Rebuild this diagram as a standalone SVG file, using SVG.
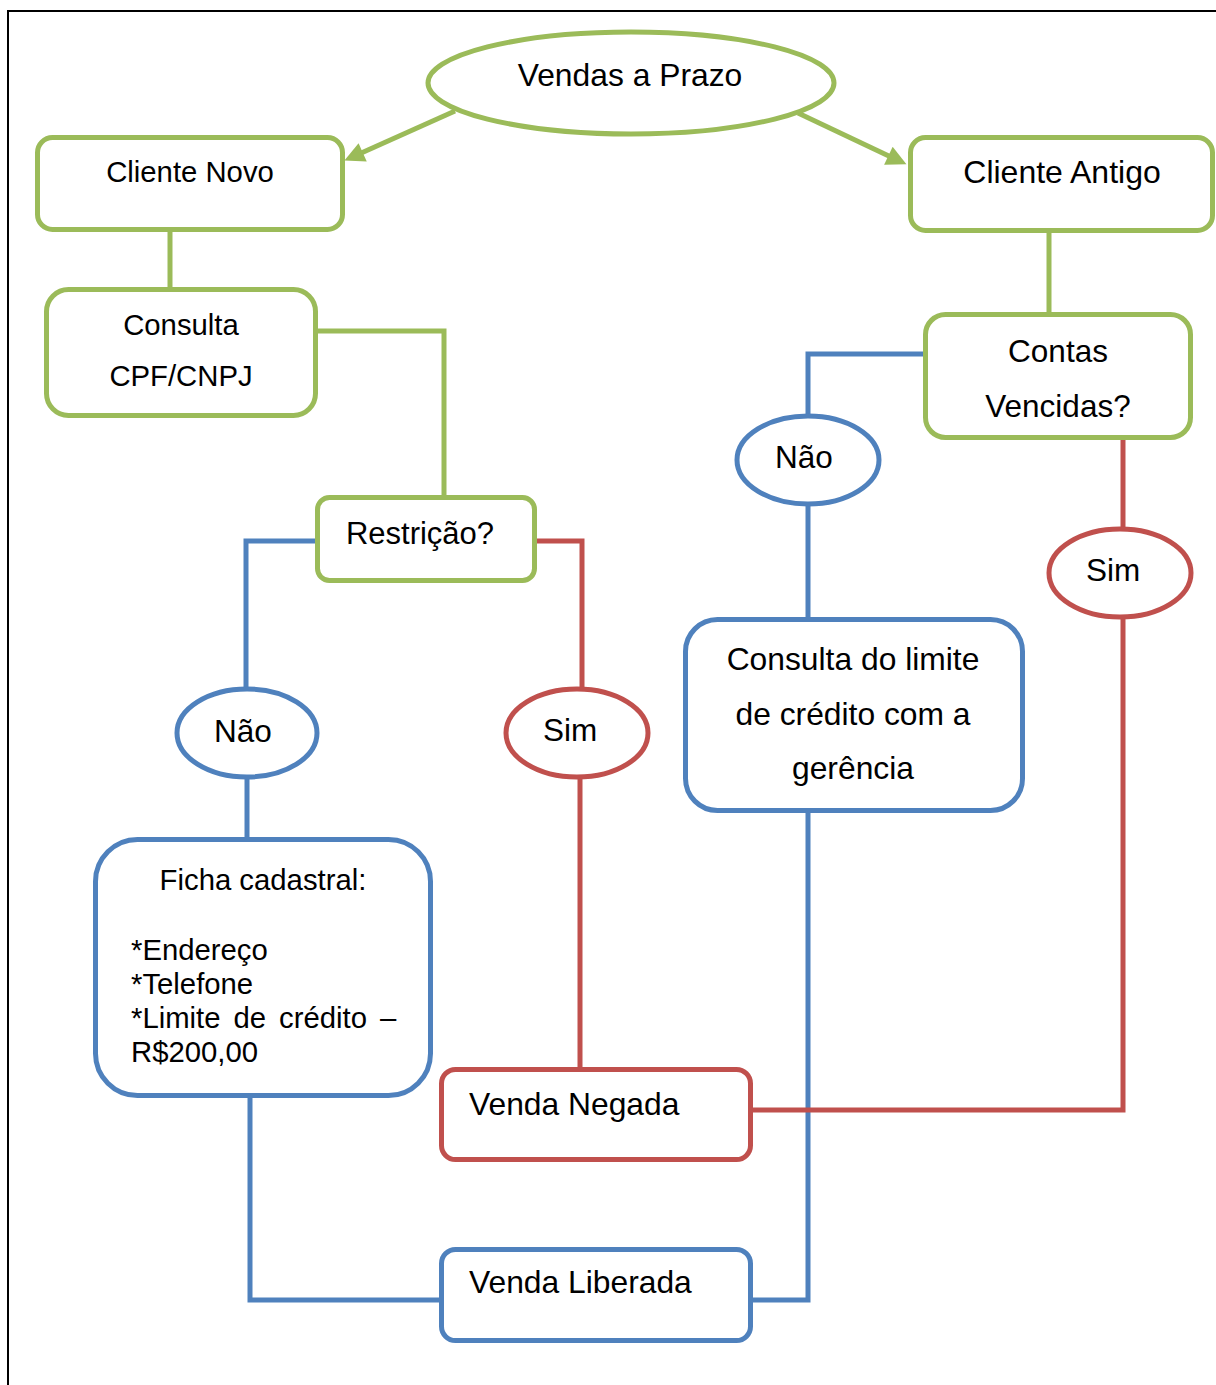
<svg xmlns="http://www.w3.org/2000/svg" width="1216" height="1385" viewBox="0 0 1216 1385">
<style>
text{font-family:"Liberation Sans",Arial,sans-serif;fill:#000}
.g{fill:#fff;stroke:#9BBB59;stroke-width:5}
.b{fill:#fff;stroke:#4F81BD;stroke-width:5}
.r{fill:#fff;stroke:#C0504D;stroke-width:5}
.cg{fill:none;stroke:#9BBB59;stroke-width:5}
.cb{fill:none;stroke:#4F81BD;stroke-width:5}
.cr{fill:none;stroke:#C0504D;stroke-width:5}
.m{text-anchor:middle}
</style>
<defs>
<marker id="ag" viewBox="0 0 10 10" refX="2" refY="5" markerWidth="22" markerHeight="20" markerUnits="userSpaceOnUse" orient="auto">
<path d="M0,0 L10,5 L0,10 z" fill="#9BBB59"/>
</marker>
</defs>
<rect x="8" y="11" width="1222" height="1392" fill="#fff" stroke="#000" stroke-width="2"/>
<g id="connectors">
<line class="cg" x1="455" y1="111" x2="359" y2="154" marker-end="url(#ag)"/>
<line class="cg" x1="798" y1="113" x2="892" y2="157.5" marker-end="url(#ag)"/>
<path class="cg" d="M170,230 V289"/>
<path class="cg" d="M315,331 H444 V497"/>
<path class="cg" d="M1049,230 V314"/>
<path class="cb" d="M317,541 H246 V689"/>
<path class="cb" d="M247,778 V839"/>
<path class="cb" d="M250,1096 V1300 H441"/>
<path class="cb" d="M925,354 H808 V415"/>
<path class="cb" d="M808,505 V619"/>
<path class="cb" d="M808,811 V1300 H750"/>
<path class="cr" d="M535,541 H582 V689"/>
<path class="cr" d="M580,778 V1069"/>
<path class="cr" d="M1123,437 V529"/>
<path class="cr" d="M1123,618 V1110 H750"/>
<circle cx="1049" cy="231" r="1" fill="#000"/>
</g>
<g id="vendas-prazo">
<ellipse class="g" cx="631" cy="83" rx="203" ry="51"/>
<text class="m" x="630" y="86" font-size="31.8">Vendas a Prazo</text>
</g>
<g id="cliente-novo">
<rect class="g" x="37.5" y="137.5" width="305" height="92" rx="15"/>
<text class="m" x="190" y="182" font-size="29.3">Cliente Novo</text>
</g>
<g id="consulta-cpf">
<rect class="g" x="46.5" y="289.5" width="269" height="126" rx="22"/>
<text class="m" x="181" y="335" font-size="29.3">Consulta</text>
<text class="m" x="181" y="386" font-size="29.3">CPF/CNPJ</text>
</g>
<g id="restricao">
<rect class="g" x="317.5" y="497.5" width="217" height="83" rx="12"/>
<text class="m" x="420" y="544" font-size="31">Restrição?</text>
</g>
<g id="cliente-antigo">
<rect class="g" x="910.5" y="137.5" width="302" height="93" rx="15"/>
<text class="m" x="1062" y="183" font-size="32">Cliente Antigo</text>
</g>
<g id="contas-vencidas">
<rect class="g" x="925.5" y="314.5" width="265" height="123" rx="20"/>
<text class="m" x="1058" y="362" font-size="31.5">Contas</text>
<text class="m" x="1058" y="417" font-size="31.5">Vencidas?</text>
</g>
<g id="nao-1">
<ellipse class="b" cx="247" cy="733" rx="70" ry="44"/>
<text class="m" x="243" y="742" font-size="31.5">Não</text>
</g>
<g id="sim-1">
<ellipse class="r" cx="577" cy="733" rx="71" ry="44"/>
<text class="m" x="570" y="741" font-size="31.5">Sim</text>
</g>
<g id="nao-2">
<ellipse class="b" cx="808" cy="460" rx="71" ry="44"/>
<text class="m" x="804" y="468" font-size="31.5">Não</text>
</g>
<g id="sim-2">
<ellipse class="r" cx="1120" cy="573" rx="71" ry="44"/>
<text class="m" x="1113" y="581" font-size="31.5">Sim</text>
</g>
<g id="consulta-limite">
<rect class="b" x="685.5" y="619.5" width="337" height="191" rx="32"/>
<text class="m" x="853" y="670" font-size="31.8">Consulta do limite</text>
<text class="m" x="853" y="725" font-size="31.8">de crédito com a</text>
<text class="m" x="853" y="779" font-size="31.8">gerência</text>
</g>
<g id="ficha-cadastral">
<rect class="b" x="95.5" y="839.5" width="335" height="256" rx="42"/>
<text class="m" x="263" y="890" font-size="29.3">Ficha cadastral:</text>
<text x="131" y="960" font-size="29.3">*Endereço</text>
<text x="131" y="994" font-size="29.3">*Telefone</text>
<text x="131" y="1028" font-size="29.3" word-spacing="4.8">*Limite de crédito –</text>
<text x="131" y="1062" font-size="29.3">R$200,00</text>
</g>
<g id="venda-negada">
<rect class="r" x="441.5" y="1069.5" width="309" height="90" rx="14"/>
<text x="469" y="1115" font-size="31.8">Venda Negada</text>
</g>
<g id="venda-liberada">
<rect class="b" x="441.5" y="1249.5" width="309" height="91" rx="14"/>
<text x="469" y="1293" font-size="31.8">Venda Liberada</text>
</g>
</svg>
